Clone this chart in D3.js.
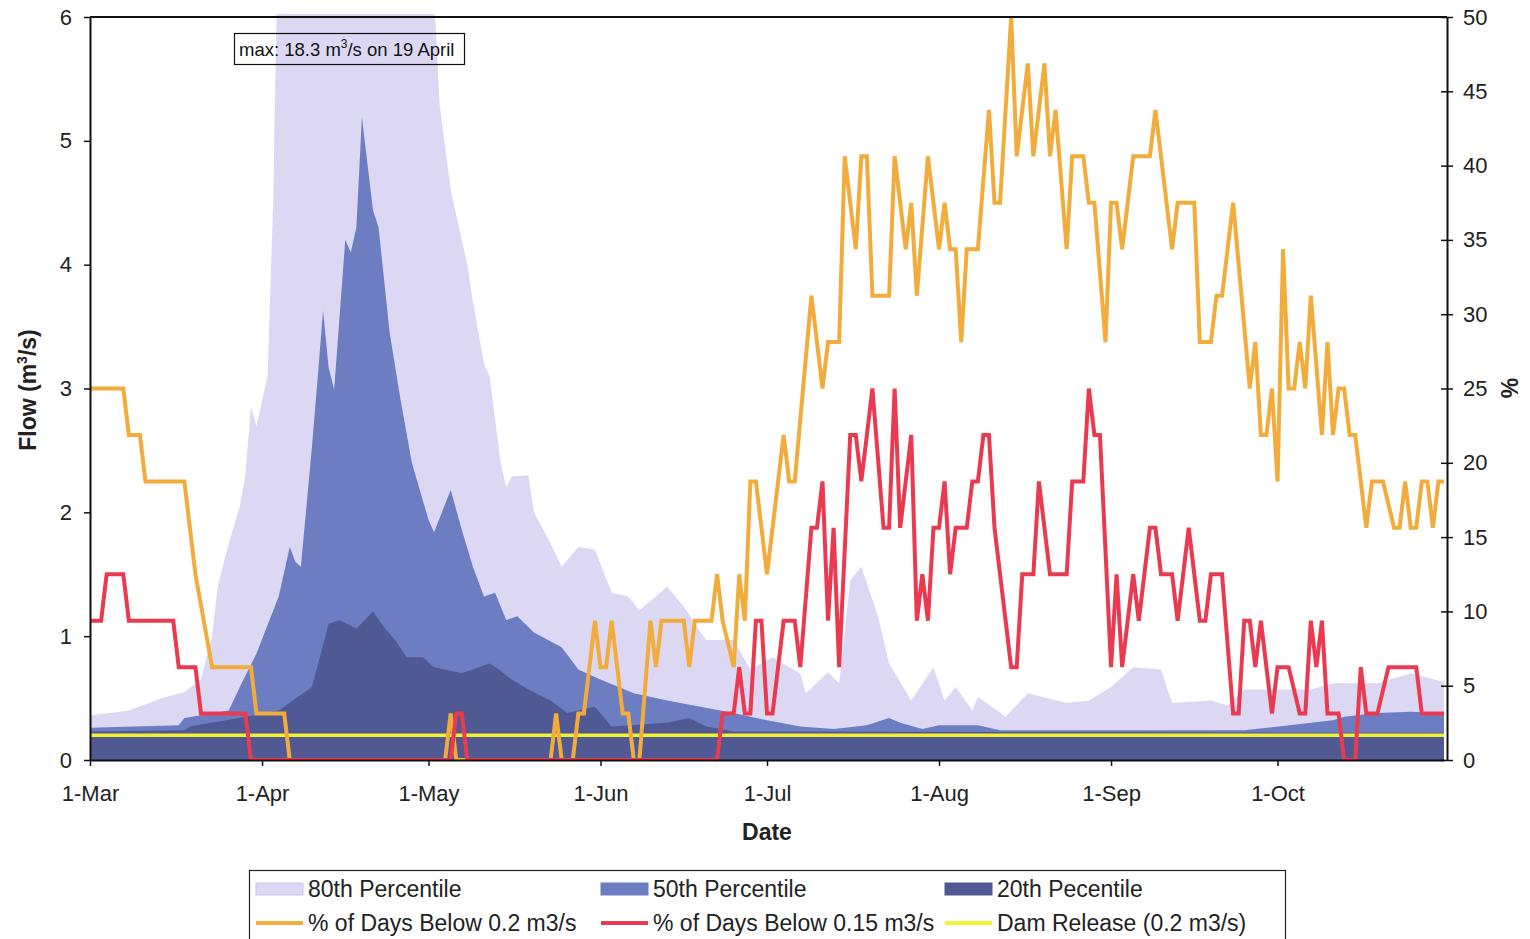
<!DOCTYPE html>
<html>
<head>
<meta charset="utf-8">
<script src="https://cdn.jsdelivr.net/npm/d3@7"></script>
<style>
  body { margin: 0; background: #fff; }
  svg { font-family: "Liberation Sans", Arial, sans-serif; }
</style>
</head>
<body>
<div id="flow-container"></div>
<script>
// Season runs 1-Mar .. 31-Oct; data given as [day offset from 1-Mar, value]
const seasonStart = new Date(2001, 2, 1);
const seasonEnd = new Date(2001, 9, 31);

// Flow percentiles (m3/s)
const p80_flow = [
  [0,0.36],[7,0.4],[13,0.5],[17,0.55],[20,0.65],[22,1.0],[23,1.4],[25,1.75],[27,2.05],[28,2.3],
  [29,2.85],[30,2.7],[31,2.9],[32,3.1],[33,4.5],[34,7],[38,10],[42,13],[46,16],[49,18.3],
  [52,15],[55,11],[58,8.5],[61,6.8],[62,6.2],[63,5.3],[65,4.6],[68,4.0],[69,3.7],[71,3.2],
  [72,3.1],[74,2.4],[75,2.2],[76,2.29],[79,2.3],[80,2.0],[83,1.75],[85,1.56],[88,1.72],[91,1.7],
  [94,1.35],[97,1.32],[99,1.21],[104,1.4],[107,1.24],[111,0.97],[116,0.97],[119,0.73],[123,0.83],
  [128,0.7],[129,0.54],[133,0.71],[135,0.62],[137,1.45],[139,1.56],[142,1.16],[144,0.78],[148,0.48],
  [152,0.75],[154,0.48],[156,0.59],[159,0.4],[160,0.51],[165,0.35],[169,0.54],[176,0.46],[180,0.48],
  [184,0.59],[188,0.75],[193,0.73],[195,0.46],[202,0.48],[205,0.44],[208,0.57],[220,0.57],[224,0.62],
  [232,0.62],[238,0.7],[244,0.63]
];
const p50_flow = [
  [0,0.26],[16,0.28],[17,0.34],[25,0.4],[27,0.59],[30,0.86],[34,1.32],[36,1.72],[37,1.6],[38,1.56],
  [40,2.53],[41,3.07],[42,3.63],[43,3.17],[44,2.99],[46,4.2],[47,4.1],[48,4.3],[49,5.19],[51,4.44],
  [52,4.3],[54,3.45],[56,2.9],[58,2.4],[61,1.94],[62,1.84],[65,2.18],[67,1.86],[69,1.56],[71,1.32],
  [73,1.35],[75,1.13],[77,1.16],[80,1.03],[85,0.91],[88,0.73],[92,0.65],[98,0.54],[104,0.48],[110,0.43],
  [116,0.38],[122,0.32],[128,0.27],[134,0.25],[140,0.28],[144,0.34],[146,0.3],[150,0.25],[153,0.28],
  [160,0.28],[164,0.24],[208,0.24],[220,0.3],[224,0.32],[226,0.35],[232,0.38],[238,0.39],[244,0.38]
];
const p20_flow = [
  [0,0.23],[17,0.24],[18,0.27],[28,0.35],[34,0.4],[40,0.59],[43,1.1],[45,1.13],[48,1.06],[51,1.2],
  [53,1.07],[55,0.97],[57,0.83],[60,0.83],[62,0.75],[67,0.7],[72,0.78],[74,0.72],[76,0.65],[79,0.57],
  [83,0.48],[86,0.38],[91,0.43],[94,0.27],[104,0.3],[108,0.34],[111,0.27],[116,0.23],[244,0.22]
];
const damRelease = 0.2;

// % of days below thresholds
const pct_below_02 = [
  [0,25],[6,25],[7,21.875],[9,21.875],[10,18.75],[17,18.75],[19,12.5],[22,6.25],[29,6.25],[30,3.125],
  [35,3.125],[36,0],[64,0],[65,3.125],[66,0],[83,0],[84,3.125],[85,0],[87,0],[88,3.125],[89,3.125],
  [90,6.25],[91,9.375],[92,6.25],[93,6.25],[94,9.375],[95,6.25],[96,3.125],[97,3.125],[98,0],[99,0],
  [101,9.375],[102,6.25],[103,9.375],[107,9.375],[108,6.25],[109,9.375],[112,9.375],[113,12.5],[114,9.375],
  [116,6.25],[117,12.5],[118,9.375],[119,18.75],[120,18.75],[122,12.5],[125,21.875],[126,18.75],[127,18.75],
  [130,31.25],[132,25],[133,28.125],[135,28.125],[136,40.625],[138,34.375],[139,40.625],[140,40.625],
  [141,31.25],[144,31.25],[145,40.625],[147,34.375],[148,37.5],[149,31.25],[151,40.625],[153,34.375],
  [154,37.5],[155,34.375],[156,34.375],[157,28.125],[158,34.375],[160,34.375],[162,43.75],[163,37.5],
  [164,37.5],[166,50],[167,40.625],[169,46.875],[170,40.625],[172,46.875],[173,40.625],[174,43.75],
  [176,34.375],[177,40.625],[179,40.625],[180,37.5],[181,37.5],[183,28.125],[184,37.5],[185,37.5],
  [186,34.375],[188,40.625],[191,40.625],[192,43.75],[195,34.375],[196,37.5],[199,37.5],[200,28.125],
  [202,28.125],[203,31.25],[204,31.25],[206,37.5],[209,25],[210,28.125],[211,21.875],[212,21.875],
  [213,25],[214,18.75],[215,34.375],[216,25],[217,25],[218,28.125],[219,25],[220,31.25],[222,21.875],
  [223,28.125],[224,21.875],[225,25],[226,25],[227,21.875],[228,21.875],[230,15.625],[231,18.75],
  [233,18.75],[235,15.625],[236,15.625],[237,18.75],[238,15.625],[239,15.625],[240,18.75],[241,18.75],
  [242,15.625],[243,18.75],[244,18.75]
];
const pct_below_015 = [
  [0,9.375],[2,9.375],[3,12.5],[6,12.5],[7,9.375],[15,9.375],[16,6.25],[19,6.25],[20,3.125],[28,3.125],
  [29,0],[65,0],[66,3.125],[67,3.125],[68,0],[113,0],[114,3.125],[116,3.125],[117,6.25],[118,3.125],
  [119,3.125],[120,9.375],[121,9.375],[122,3.125],[123,3.125],[125,9.375],[127,9.375],[128,6.25],
  [130,15.625],[131,15.625],[132,18.75],[133,9.375],[134,15.625],[135,6.25],[137,21.875],[138,21.875],
  [139,18.75],[141,25],[143,15.625],[144,15.625],[145,25],[146,15.625],[148,21.875],[149,9.375],
  [150,12.5],[151,9.375],[152,15.625],[153,15.625],[154,18.75],[155,12.5],[156,15.625],[158,15.625],
  [159,18.75],[160,18.75],[161,21.875],[162,21.875],[163,15.625],[166,6.25],[167,6.25],[168,12.5],
  [170,12.5],[171,18.75],[173,12.5],[176,12.5],[177,18.75],[179,18.75],[180,25],[181,21.875],
  [182,21.875],[184,6.25],[185,12.5],[186,6.25],[188,12.5],[189,9.375],[191,15.625],[192,15.625],
  [193,12.5],[195,12.5],[196,9.375],[198,15.625],[200,9.375],[201,9.375],[202,12.5],[204,12.5],
  [206,3.125],[207,3.125],[208,9.375],[209,9.375],[210,6.25],[211,9.375],[213,3.125],[214,6.25],
  [216,6.25],[218,3.125],[219,3.125],[220,9.375],[221,6.25],[222,9.375],[223,3.125],[225,3.125],
  [226,0],[228,0],[229,6.25],[230,3.125],[232,3.125],[234,6.25],[239,6.25],[240,3.125],[244,3.125]
];

const flowTicks = [0, 1, 2, 3, 4, 5, 6];
const pctTicks = [0, 5, 10, 15, 20, 25, 30, 35, 40, 45, 50];

const legendItems = [
  { label: "80th Percentile", type: "area", color: "#dcd8f4" },
  { label: "50th Percentile", type: "area", color: "#6c7dc2" },
  { label: "20th Pecentile", type: "area", color: "#505993" },
  { label: "% of Days Below 0.2 m3/s", type: "line", color: "#f2ac3c" },
  { label: "% of Days Below 0.15 m3/s", type: "line", color: "#ea3a50" },
  { label: "Dam Release (0.2 m3/s)", type: "line", color: "#f2f230" }
];

// Set dimensions and margins for the chart
const margin_flow = { top: 17, right: 83, bottom: 179, left: 90 };
const width_flow = 1530 - margin_flow.left - margin_flow.right;
const height_flow = 939 - margin_flow.top - margin_flow.bottom;

const toDate = d => d3.timeDay.offset(seasonStart, d);

const x_flow = d3.scaleTime()
  .domain([seasonStart, seasonEnd])
  .range([0, width_flow - 3]);

const y_flow = d3.scaleLinear()
  .domain([0, 6])
  .range([height_flow, 0]);

const y_pct = d3.scaleLinear()
  .domain([0, 50])
  .range([height_flow, 0]);

const svg_root = d3.select("#flow-container")
  .append("svg")
    .attr("width", 1530)
    .attr("height", 939);

const svg_flow = svg_root.append("g")
    .attr("transform", `translate(${margin_flow.left},${margin_flow.top})`);

svg_flow.append("clipPath")
    .attr("id", "plot-clip")
  .append("rect")
    .attr("x", 0)
    .attr("y", -3)
    .attr("width", width_flow)
    .attr("height", height_flow + 3);

const plot = svg_flow.append("g").attr("clip-path", "url(#plot-clip)");

// Percentile areas
const area_flow = d3.area()
    .x(d => x_flow(toDate(d[0])))
    .y0(height_flow)
    .y1(d => y_flow(d[1]));

[[p80_flow, legendItems[0].color], [p50_flow, legendItems[1].color], [p20_flow, legendItems[2].color]]
  .forEach(([data, color]) => {
    plot.append("path")
        .datum(data)
        .attr("fill", color)
        .attr("d", area_flow);
  });

// Dam release line
plot.append("line")
    .attr("x1", 0)
    .attr("x2", width_flow - 3)
    .attr("y1", y_flow(damRelease))
    .attr("y2", y_flow(damRelease))
    .attr("stroke", legendItems[5].color)
    .attr("stroke-width", 3.5);

// % of days lines
const line_pct = d3.line()
    .x(d => x_flow(toDate(d[0])))
    .y(d => y_pct(d[1]));

plot.append("path")
    .datum(pct_below_02)
    .attr("fill", "none")
    .attr("stroke", legendItems[3].color)
    .attr("stroke-width", 4)
    .attr("d", line_pct);

plot.append("path")
    .datum(pct_below_015)
    .attr("fill", "none")
    .attr("stroke", legendItems[4].color)
    .attr("stroke-width", 4)
    .attr("d", line_pct);

// Top border
svg_flow.append("line")
    .attr("x1", 0).attr("x2", width_flow)
    .attr("y1", 0).attr("y2", 0)
    .attr("stroke", "#111")
    .attr("stroke-width", 2);

// Axes
const gx = svg_flow.append("g")
    .attr("transform", `translate(0,${height_flow})`)
    .style("font-size", "22px")
    .call(d3.axisBottom(x_flow)
      .ticks(d3.timeMonth.every(1))
      .tickFormat(d3.timeFormat("%-d-%b"))
      .tickSize(6)
      .tickSizeOuter(0)
      .tickPadding(19));

const gyl = svg_flow.append("g")
    .style("font-size", "22px")
    .call(d3.axisLeft(y_flow)
      .tickValues(flowTicks)
      .tickFormat(d3.format("d"))
      .tickSize(6)
      .tickSizeOuter(0)
      .tickPadding(12));

const gyr = svg_flow.append("g")
    .attr("transform", `translate(${width_flow},0)`)
    .style("font-size", "22px")
    .call(d3.axisRight(y_pct)
      .tickValues(pctTicks)
      .tickSize(6)
      .tickSizeOuter(0)
      .tickPadding(10));

gyr.selectAll(".tick line").attr("x1", -6);

[gx, gyl, gyr].forEach(g => {
  g.select(".domain").attr("stroke", "#111").attr("stroke-width", 2);
  g.selectAll(".tick line").attr("stroke", "#111").attr("stroke-width", 1.5);
  g.selectAll(".tick text").attr("fill", "#222").style("font-family", "'Liberation Sans', Arial, sans-serif");
});

// Axis titles
svg_flow.append("text")
    .attr("x", 677)
    .attr("y", height_flow + 80)
    .attr("text-anchor", "middle")
    .style("font-size", "23px")
    .style("font-weight", "bold")
    .attr("fill", "#222")
    .text("Date");

const yTitle = svg_flow.append("text")
    .attr("transform", `translate(-54,373) rotate(-90)`)
    .attr("text-anchor", "middle")
    .style("font-size", "23px")
    .style("font-weight", "bold")
    .attr("fill", "#222");
yTitle.append("tspan").text("Flow (m");
yTitle.append("tspan").attr("dy", -9).style("font-size", "14px").text("3");
yTitle.append("tspan").attr("dy", 9).text("/s)");

svg_flow.append("text")
    .attr("transform", `translate(${width_flow + 71},371) rotate(-90)`)
    .attr("text-anchor", "middle")
    .style("font-size", "23px")
    .style("font-weight", "bold")
    .attr("fill", "#222")
    .text("%");

// Max annotation
const note = svg_root.append("g");
note.append("rect")
    .attr("x", 234.5).attr("y", 33.5)
    .attr("width", 230).attr("height", 31)
    .attr("fill", "none")
    .attr("stroke", "#111")
    .attr("stroke-width", 1.2);
const noteText = note.append("text")
    .attr("x", 239).attr("y", 56)
    .style("font-size", "18.5px")
    .attr("fill", "#111");
noteText.append("tspan").text("max: 18.3 m");
noteText.append("tspan").attr("dy", -8).style("font-size", "12px").text("3");
noteText.append("tspan").attr("dy", 8).text("/s on 19 April");

// Legend
const legend = svg_root.append("g");
legend.append("rect")
    .attr("x", 249.5).attr("y", 870.5)
    .attr("width", 1036).attr("height", 70)
    .attr("fill", "#fff")
    .attr("stroke", "#222")
    .attr("stroke-width", 1.2);

const legendCols = [256, 601, 945];
const legendRows = [889, 923];

legendItems.forEach((item, i) => {
  const lx = legendCols[i % 3];
  const ly = legendRows[Math.floor(i / 3)];
  if (item.type === "area") {
    legend.append("rect")
        .attr("x", lx).attr("y", ly - 6)
        .attr("width", 47).attr("height", 12)
        .attr("fill", item.color)
        .attr("stroke", i === 0 ? "#c8c4e8" : item.color)
        .attr("stroke-width", 1);
  } else {
    legend.append("line")
        .attr("x1", lx).attr("x2", lx + 47)
        .attr("y1", ly).attr("y2", ly)
        .attr("stroke", item.color)
        .attr("stroke-width", 4);
  }
  legend.append("text")
      .attr("x", lx + 52)
      .attr("y", ly + 8)
      .style("font-size", "23px")
      .attr("fill", "#222")
      .text(item.label);
});
</script>
</body>
</html>
